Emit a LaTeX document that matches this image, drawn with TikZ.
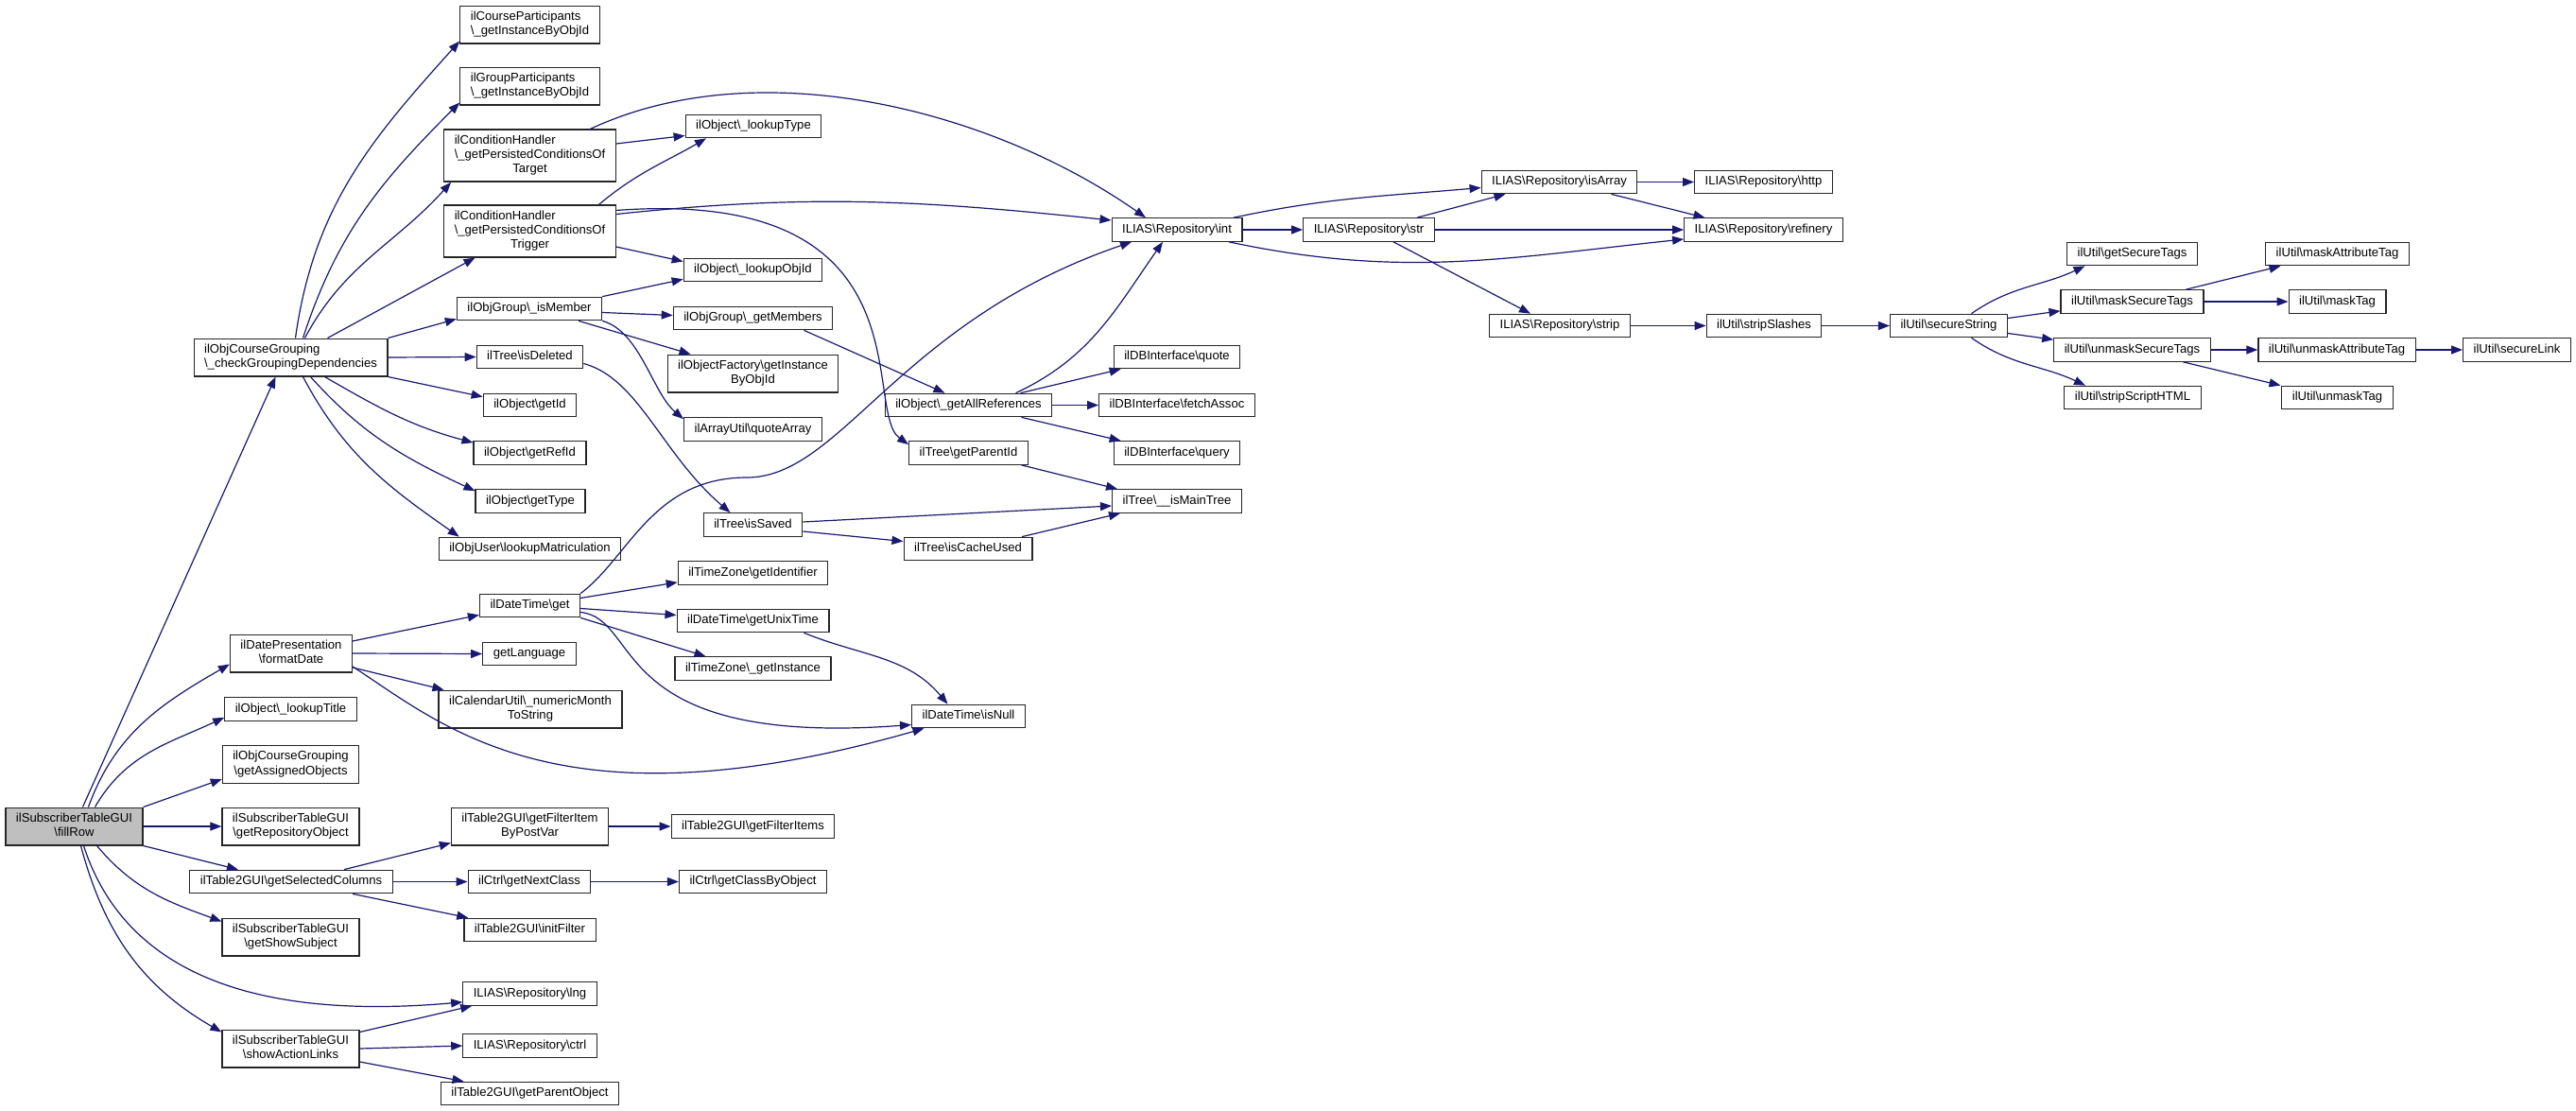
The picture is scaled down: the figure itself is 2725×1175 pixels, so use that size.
\documentclass[tikz,border=0pt]{standalone}
\usepackage{fontspec}
\usetikzlibrary{arrows.meta}
\newfontfamily\dotfont{Liberation Sans}
\definecolor{edgeblue}{HTML}{191970}
\newcommand{\bs}{\textbackslash}
\newcommand{\fnl}[2]{\begin{tabular}{@{}l@{}}#1\\\multicolumn{1}{@{}c@{}}{#2}\end{tabular}}

\begin{document}
\begin{tikzpicture}[x=1pt, y=1pt,
    fn/.style={draw=black!85, line width=1.2pt, fill=white, inner xsep=11pt, inner ysep=4.6pt,
        font=\dotfont\fontsize{13.1}{15.3}\selectfont, execute at begin node=\strut},
    root/.style={fn, fill=black!25},
    call/.style={-{Triangle[length=12pt,width=9pt]}, edgeblue, line width=1.2pt}]
    \useasboundingbox (0,0) rectangle (2725,-1175);

    % callers
    \node[root] (fillRow) at (78.5,-874) {\fnl{ilSubscriberTableGUI}{\bs fillRow}};
    \node[fn] (chkGrp) at (307.5,-378) {\fnl{ilObjCourseGrouping}{\bs\_checkGroupingDependencies}};
    \node[fn] (fmtDate) at (308,-691) {\fnl{ilDatePresentation}{\bs formatDate}};
    \node[fn] (lookupTitle) at (307.5,-750) {ilObject\bs\_lookupTitle};
    \node[fn] (getAssigned) at (307.5,-808.5) {\fnl{ilObjCourseGrouping}{\bs getAssignedObjects}};
    \node[fn] (getRepoObj) at (307.5,-874) {\fnl{ilSubscriberTableGUI}{\bs getRepositoryObject}};
    \node[fn] (getSelCols) at (308,-932.5) {ilTable2GUI\bs getSelectedColumns};
    \node[fn] (getShowSubj) at (307.5,-991) {\fnl{ilSubscriberTableGUI}{\bs getShowSubject}};
    \node[fn] (showAction) at (307.5,-1109) {\fnl{ilSubscriberTableGUI}{\bs showActionLinks}};

    % third column
    \node[fn] (crsPart) at (560.5,-26) {\fnl{ilCourseParticipants}{\bs\_getInstanceByObjId}};
    \node[fn] (grpPart) at (560.5,-91) {\fnl{ilGroupParticipants}{\bs\_getInstanceByObjId}};
    \node[fn] (condTarget) at (560.5,-164.5) {\fnl{ilConditionHandler\\\bs\_getPersistedConditionsOf}{Target}};
    \node[fn] (condTrigger) at (560.5,-244.5) {\fnl{ilConditionHandler\\\bs\_getPersistedConditionsOf}{Trigger}};
    \node[fn] (isMember) at (560,-326.5) {ilObjGroup\bs\_isMember};
    \node[fn] (isDeleted) at (560.5,-377.5) {ilTree\bs isDeleted};
    \node[fn] (getId) at (560.5,-428.5) {ilObject\bs getId};
    \node[fn] (getRefId) at (560.5,-479) {ilObject\bs getRefId};
    \node[fn] (getType) at (561,-530) {ilObject\bs getType};
    \node[fn] (lookupMatr) at (560.5,-580.5) {ilObjUser\bs lookupMatriculation};
    \node[fn] (dtGet) at (560.5,-640.5) {ilDateTime\bs get};
    \node[fn] (getLanguage) at (560,-691.5) {getLanguage};
    \node[fn] (numMonth) at (561,-750) {\fnl{ilCalendarUtil\bs\_numericMonth}{ToString}};
    \node[fn] (filterByVar) at (560.5,-874) {\fnl{ilTable2GUI\bs getFilterItem}{ByPostVar}};
    \node[fn] (nextClass) at (560,-932.5) {ilCtrl\bs getNextClass};
    \node[fn] (initFilter) at (560.5,-983.5) {ilTable2GUI\bs initFilter};
    \node[fn] (lng) at (560.5,-1051) {ILIAS\bs Repository\bs lng};
    \node[fn] (ctrl) at (560.5,-1106) {ILIAS\bs Repository\bs ctrl};
    \node[fn] (parentObj) at (560.5,-1156.5) {ilTable2GUI\bs getParentObject};

    % fourth column
    \node[fn] (lookupType) at (797,-133.5) {ilObject\bs\_lookupType};
    \node[fn] (lookupObjId) at (796.5,-285.5) {ilObject\bs\_lookupObjId};
    \node[fn] (getMembers) at (796.5,-336.5) {ilObjGroup\bs\_getMembers};
    \node[fn] (objFactory) at (796.5,-395) {\fnl{ilObjectFactory\bs getInstance}{ByObjId}};
    \node[fn] (quoteArray) at (796.5,-454) {ilArrayUtil\bs quoteArray};
    \node[fn] (isSaved) at (796.5,-555) {ilTree\bs isSaved};
    \node[fn] (tzId) at (796.5,-606) {ilTimeZone\bs getIdentifier};
    \node[fn] (unixTime) at (796.5,-656.5) {ilDateTime\bs getUnixTime};
    \node[fn] (tzInst) at (796.5,-707) {ilTimeZone\bs\_getInstance};
    \node[fn] (filterItems) at (796.5,-874) {ilTable2GUI\bs getFilterItems};
    \node[fn] (classByObj) at (796.5,-932.5) {ilCtrl\bs getClassByObject};

    % fifth and sixth column
    \node[fn] (allRefs) at (1024.5,-428.5) {ilObject\bs\_getAllReferences};
    \node[fn] (parentId) at (1024.5,-479) {ilTree\bs getParentId};
    \node[fn] (cacheUsed) at (1024,-580.5) {ilTree\bs isCacheUsed};
    \node[fn] (isNull) at (1024.5,-757.5) {ilDateTime\bs isNull};
    \node[fn] (repoInt) at (1245,-243) {ILIAS\bs Repository\bs int};
    \node[fn] (dbQuote) at (1245,-377.5) {ilDBInterface\bs quote};
    \node[fn] (fetchAssoc) at (1245,-428.5) {ilDBInterface\bs fetchAssoc};
    \node[fn] (dbQuery) at (1245,-479) {ilDBInterface\bs query};
    \node[fn] (mainTree) at (1245,-530) {ilTree\bs\_\_isMainTree};

    % repository
    \node[fn] (repoStr) at (1448,-243) {ILIAS\bs Repository\bs str};
    \node[fn] (isArray) at (1649.5,-192.5) {ILIAS\bs Repository\bs isArray};
    \node[fn] (strip) at (1650,-344.5) {ILIAS\bs Repository\bs strip};
    \node[fn] (http) at (1865.5,-192.5) {ILIAS\bs Repository\bs http};
    \node[fn] (refinery) at (1865.5,-243) {ILIAS\bs Repository\bs refinery};
    \node[fn] (stripSlashes) at (1866,-344.5) {ilUtil\bs stripSlashes};

    % ilUtil
    \node[fn] (secString) at (2061.5,-344.5) {ilUtil\bs secureString};
    \node[fn] (secTags) at (2255.5,-268.5) {ilUtil\bs getSecureTags};
    \node[fn] (maskSec) at (2255.5,-319) {ilUtil\bs maskSecureTags};
    \node[fn] (unmaskSec) at (2255.5,-370) {ilUtil\bs unmaskSecureTags};
    \node[fn] (stripHTML) at (2256,-420.5) {ilUtil\bs stripScriptHTML};
    \node[fn] (maskAttr) at (2472.5,-268.5) {ilUtil\bs maskAttributeTag};
    \node[fn] (maskTag) at (2472.5,-319) {ilUtil\bs maskTag};
    \node[fn] (unmaskAttr) at (2472,-370) {ilUtil\bs unmaskAttributeTag};
    \node[fn] (unmaskTag) at (2472.5,-420.5) {ilUtil\bs unmaskTag};
    \node[fn] (secLink) at (2662.5,-370) {ilUtil\bs secureLink};

    % straight calls
    \foreach \a/\b in {fillRow/getRepoObj, chkGrp/isDeleted, fmtDate/getLanguage, getSelCols/nextClass,
        filterByVar/filterItems, nextClass/classByObj, showAction/ctrl, allRefs/fetchAssoc,
        repoInt/repoStr, repoStr/refinery, isArray/http, strip/stripSlashes, stripSlashes/secString,
        maskSec/maskTag, unmaskSec/unmaskAttr, unmaskAttr/secLink} {
        \draw[call] (\a.east) -- (\b.west);
    };

    % fillRow
    \draw[call] ([xshift=9]fillRow.north) -- ([xshift=-16]chkGrp.south);
    \draw[call] ([xshift=15]fillRow.north) to[out=70,in=210] ([yshift=9]fmtDate.south west);
    \draw[call] ([xshift=22]fillRow.north) to[out=60,in=205] ([yshift=4]lookupTitle.south west);
    \draw[call] (fillRow.north east) -- ([yshift=5]getAssigned.south west);
    \draw[call] (fillRow.south east) -- ([xshift=-56]getSelCols.north);
    \draw[call] ([xshift=24]fillRow.south) to[out=-50,in=160] ([yshift=-4]getShowSubj.north west);
    \draw[call] ([xshift=10]fillRow.south) to[out=-72,in=185] ([yshift=4]lng.south west);
    \draw[call] ([xshift=7]fillRow.south) to[out=-75,in=150] ([yshift=-3]showAction.north west);

    % checkGroupingDependencies
    \draw[call] ([xshift=5]chkGrp.north) to[out=82,in=228] ([yshift=3]crsPart.south west);
    \draw[call] ([xshift=13]chkGrp.north) to[out=72,in=225] ([yshift=3]grpPart.south west);
    \draw[call] ([xshift=15]chkGrp.north) to[out=62,in=228] ([xshift=8]condTarget.south west);
    \draw[call] ([xshift=39]chkGrp.north) -- ([xshift=-58]condTrigger.south);
    \draw[call] (chkGrp.north east) -- ([yshift=2]isMember.south west);
    \draw[call] (chkGrp.south east) -- ([yshift=-4]getId.north west);
    \draw[call] ([xshift=36]chkGrp.south) to[out=-30,in=165] ([yshift=-2]getRefId.north west);
    \draw[call] ([xshift=21]chkGrp.south) to[out=-48,in=155] ([yshift=-2]getType.north west);
    \draw[call] ([xshift=13]chkGrp.south) to[out=-62,in=145] ([xshift=22]lookupMatr.north west);

    % conditions, groups, tree
    \draw[call] ([yshift=12.5]condTarget.east) -- ([yshift=-10]lookupType.west);
    \draw[call] ([xshift=64]condTarget.north) to[out=25,in=145,looseness=0.85] ([xshift=-33]repoInt.north);
    \draw[call] ([xshift=73]condTrigger.north) to[out=40,in=210] ([xshift=-50]lookupType.south);
    \draw[call] ([yshift=18]condTrigger.east) to[out=6,in=174] ([yshift=10]repoInt.west);
    \draw[call] ([yshift=22]condTrigger.east) .. controls +(335,25) and +(-50,36) .. ([yshift=-4]parentId.north west);
    \draw[call] ([yshift=-16.5]condTrigger.east) -- ([yshift=9]lookupObjId.west);
    \draw[call] (isMember.north east) -- ([yshift=3]lookupObjId.south west);
    \draw[call] ([yshift=-4]isMember.east) -- ([yshift=3]getMembers.west);
    \draw[call] ([xshift=52]isMember.south) -- ([xshift=-66]objFactory.north);
    \draw[call] (isMember.south east) .. controls +(40,-11) and +(-33,28) .. ([yshift=-2]quoteArray.north west);
    \draw[call] ([yshift=-7]isDeleted.east) .. controls +(58,-15.5) and +(-72.5,62) .. ([xshift=-24]isSaved.north);
    \draw[call] ([xshift=54]getMembers.south) -- ([xshift=-25]allRefs.north);
    \draw[call] ([xshift=50]allRefs.north) to[out=25,in=235] ([xshift=-15]repoInt.south);
    \draw[call] ([xshift=55]allRefs.north) -- ([xshift=8]dbQuote.south west);
    \draw[call] ([xshift=56]allRefs.south) -- ([xshift=8]dbQuery.north west);
    \draw[call] ([xshift=56]parentId.south) -- ([xshift=6]mainTree.north west);
    \draw[call] ([yshift=3]isSaved.east) -- ([yshift=-5]mainTree.west);
    \draw[call] ([yshift=-7]isSaved.east) -- ([yshift=8]cacheUsed.west);
    \draw[call] ([xshift=57]cacheUsed.north) -- ([xshift=9]mainTree.south west);

    % dates
    \draw[call] (dtGet.north east) .. controls (665,-590) and (690,-505) .. (790,-505)
        .. controls (890,-505) and (950,-340) .. ([xshift=-48]repoInt.south);
    \draw[call] ([yshift=8]dtGet.east) -- ([yshift=3]tzId.south west);
    \draw[call] ([yshift=-3]dtGet.east) -- ([yshift=6]unixTime.west);
    \draw[call] (dtGet.south east) -- ([xshift=-50]tzInst.north);
    \draw[call] ([yshift=-7]dtGet.east) .. controls +(66,-7) and +(-323,-24) .. ([yshift=-9]isNull.west);
    \draw[call] ([xshift=54]unixTime.south) to[out=-22,in=130] ([xshift=-22]isNull.north);
    \draw[call] ([yshift=13]fmtDate.east) -- ([yshift=3]dtGet.south west);
    \draw[call] ([yshift=-15]fmtDate.east) -- ([xshift=6]numMonth.north west);
    \draw[call] ([yshift=-14]fmtDate.east) .. controls +(97,-63) and +(-385,-110) .. ([xshift=-47]isNull.south);

    % table gui
    \draw[call] ([xshift=56]getSelCols.north) -- ([yshift=3]filterByVar.south west);
    \draw[call] ([xshift=65]getSelCols.south) -- ([xshift=5]initFilter.north west);
    \draw[call] ([yshift=-3]showAction.north east) -- ([xshift=10]lng.south west);
    \draw[call] ([yshift=-14]showAction.east) -- ([xshift=-70]parentObj.north);

    % repository
    \draw[call] ([xshift=60]repoInt.north) to[out=12,in=185] ([yshift=-6]isArray.west);
    \draw[call] ([xshift=55]repoInt.south) to[out=-12,in=186] ([yshift=-10]refinery.west);
    \draw[call] ([xshift=51]repoStr.north) -- ([xshift=-57]isArray.south);
    \draw[call] ([xshift=26]repoStr.south) -- ([xshift=-31]strip.north);
    \draw[call] ([xshift=55]isArray.south) -- ([xshift=-62]refinery.north);

    % secure string
    \draw[call] ([xshift=24]secString.north) to[out=35,in=205] ([xshift=-50]secTags.south);
    \draw[call] ([yshift=8]secString.east) -- ([yshift=3]maskSec.south west);
    \draw[call] ([yshift=-8]secString.east) -- ([yshift=-2]unmaskSec.north west);
    \draw[call] ([xshift=24]secString.south) to[out=-35,in=155] ([xshift=-50]stripHTML.north);
    \draw[call] ([xshift=57]maskSec.north) -- ([xshift=-60]maskAttr.south);
    \draw[call] ([xshift=54]unmaskSec.south) -- ([xshift=-60]unmaskTag.north);
\end{tikzpicture}
\end{document}
